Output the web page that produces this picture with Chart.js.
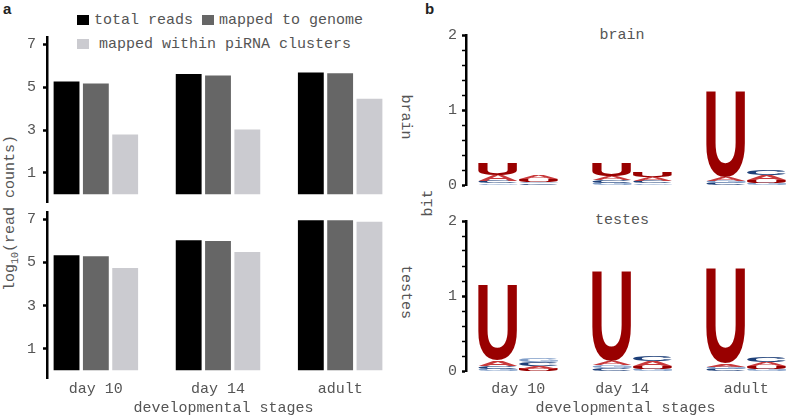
<!DOCTYPE html>
<html>
<head>
<meta charset="utf-8">
<script src="https://cdn.jsdelivr.net/npm/chart.js@4.4.0/dist/chart.umd.min.js"></script>
<style>
  body { margin: 0; background: #fff; width: 787px; height: 417px; position: relative; overflow: hidden;
         font-family: "Liberation Mono", monospace; color: #555; }
  canvas { position: absolute; }
  .lbl { position: absolute; font-size: 15px; white-space: nowrap; line-height: 1; }
  .up { transform: translate(-50%, -50%) rotate(-90deg); }
  .down { transform: translate(-50%, -50%) rotate(90deg); }
  .sw { position: absolute; width: 12px; height: 10px; }
  .panel { position: absolute; font: bold 15px "Liberation Sans", sans-serif; color: #222; }
  sub { font-size: 10px; }
</style>
</head>
<body>
<div class="panel" style="left:3px;top:0px">a</div>
<div class="panel" style="left:425px;top:0px">b</div>

<!-- legend -->
<div class="sw" style="left:77px;top:15px;background:#000"></div>
<div class="lbl" style="left:94px;top:13px">total reads</div>
<div class="sw" style="left:202px;top:15px;background:#666"></div>
<div class="lbl" style="left:219px;top:13px">mapped to genome</div>
<div class="sw" style="left:77px;top:39px;background:#cbcbd0"></div>
<div class="lbl" style="left:99px;top:37px">mapped within piRNA clusters</div>

<div class="lbl up" style="left:12px;top:213px">log<sub>10</sub>(read counts)</div>
<div class="lbl down" style="left:405px;top:117px">brain</div>
<div class="lbl down" style="left:405px;top:292px">testes</div>
<div class="lbl up" style="left:428px;top:203px">bit</div>
<div class="lbl" style="left:622px;top:35px;transform:translate(-50%,-50%)">brain</div>
<div class="lbl" style="left:622px;top:220px;transform:translate(-50%,-50%)">testes</div>

<canvas id="brainBars" width="420" height="180" style="left:0;top:30px"></canvas>
<canvas id="testesBars" width="420" height="212" style="left:0;top:205px"></canvas>
<canvas id="brainLogo" width="387" height="200" style="left:400px;top:0"></canvas>
<canvas id="testesLogo" width="387" height="217" style="left:400px;top:200px"></canvas>

<script>
// log10 read counts per developmental stage
const stages = ["day 10", "day 14", "adult"];
const brainTotal = [5.30, 5.66, 5.73];
const brainGenome = [5.21, 5.59, 5.69];
const brainPirna = [2.84, 3.07, 4.50];
const testesTotal = [5.38, 6.07, 7.00];
const testesGenome = [5.33, 6.04, 6.99];
const testesPirna = [4.79, 5.53, 6.93];
const readTicks = [1, 3, 5, 7];

// sequence logo: two positions per stage, bits for each nucleotide
const logoPositions = [0, 1, 2.8, 3.8, 5.6, 6.6];
const stageTickPos = [0.5, 3.05, 6.1];
const brainU = [0.15, 0.04, 0.17, 0.07, 1.15, 0.04];
const brainA = [0.08, 0.05, 0.05, 0.05, 0.05, 0.06];
const brainC = [0.03, 0.02, 0.04, 0.04, 0.03, 0.07];
const brainG = [0.02, 0.02, 0.03, 0.02, 0.03, 0.03];
const testesU = [1.00, 0.03, 1.20, 0.04, 1.27, 0.04];
const testesA = [0.07, 0.04, 0.05, 0.06, 0.04, 0.05];
const testesC = [0.04, 0.05, 0.04, 0.07, 0.03, 0.06];
const testesG = [0.03, 0.05, 0.04, 0.03, 0.03, 0.03];

const mono = { family: "Liberation Mono", size: 15 };
const textColor = "#555";

// keep the tick labels from eating into the plot height
function fixWidth(w) {
  return (s) => { s.width = w; s.paddingTop = 0; s.paddingBottom = 0; };
}

function barChart(id, total, genome, pirna, showX) {
  const pts = (vals) => vals.map((v, i) => ({ x: i, y: v }));
  const ds = (label, vals, color) => ({
    label, data: pts(vals), backgroundColor: color,
    borderColor: "rgba(255,255,255,0.5)", borderWidth: 1,
    barPercentage: 0.95, categoryPercentage: 0.72
  });
  new Chart(document.getElementById(id), {
    type: "bar",
    data: {
      datasets: [
        ds("total reads", total, "#000"),
        ds("mapped to genome", genome, "#666"),
        ds("mapped within piRNA clusters", pirna, "#cbcbd0")
      ]
    },
    options: {
      responsive: false, animation: false,
      layout: { padding: { top: 7, right: 20, bottom: showX ? 0 : 8, left: 0 } },
      plugins: { legend: { display: false }, tooltip: { enabled: false } },
      scales: {
        x: {
          type: "linear", min: -0.4, max: 2.49, offset: false,
          display: showX,
          grid: { display: false, drawTicks: false },
          border: { display: false },
          afterBuildTicks: (s) => { s.ticks = stages.map((_, i) => ({ value: i })); },
          afterFit: (s) => { if (showX) { s.height = 39; s.paddingLeft = 0; s.paddingRight = 0; } },
          ticks: { font: mono, color: textColor, padding: 2, maxRotation: 0, autoSkip: false,
                   callback: (v) => stages[v] },
          title: { display: true, text: "developmental stages", font: mono, color: textColor,
                   padding: { top: 0, bottom: 0 } }
        },
        y: {
          min: -0.35, max: 7.33,
          afterBuildTicks: (s) => { s.ticks = readTicks.map((v) => ({ value: v })); },
          afterFit: fixWidth(47),
          grid: { drawOnChartArea: false, drawTicks: true, tickLength: 4, tickColor: "#000", tickWidth: 2.5 },
          border: { display: true, color: "#000", width: 2.5 },
          ticks: { font: mono, color: textColor, padding: 7, autoSkip: false }
        }
      }
    }
  });
}

function drawLetter(ctx, letter, color, x, y, w, h) {
  if (h <= 0.3) return;
  ctx.save();
  ctx.font = 'bold 100px "Liberation Sans"';
  const m = ctx.measureText(letter);
  const gw = m.actualBoundingBoxLeft + m.actualBoundingBoxRight;
  const gh = m.actualBoundingBoxAscent + m.actualBoundingBoxDescent;
  ctx.translate(x, y);
  ctx.scale(w / gw, h / gh);
  ctx.fillStyle = color;
  ctx.textAlign = "left";
  ctx.textBaseline = "alphabetic";
  ctx.fillText(letter, m.actualBoundingBoxLeft, m.actualBoundingBoxAscent);
  ctx.restore();
}

const logoPlugin = {
  id: "logo",
  afterDatasetsDraw(chart) {
    const ctx = chart.ctx, xs = chart.scales.x, ys = chart.scales.y;
    const sets = chart.data.datasets;
    sets[0].data.forEach((pt, i) => {
      const col = sets.map((d) => ({ letter: d.label, color: d.borderColor, h: d.data[i].y }));
      col.sort((a, b) => a.h - b.h);
      const x0 = xs.getPixelForValue(pt.x - 0.48);
      const x1 = xs.getPixelForValue(pt.x + 0.48);
      let base = 0;
      col.forEach((c) => {
        const yb = ys.getPixelForValue(base);
        const yt = ys.getPixelForValue(base + c.h);
        drawLetter(ctx, c.letter, c.color, x0, yt, x1 - x0, yb - yt);
        base += c.h;
      });
    });
  }
};

function logoChart(id, u, a, c, g, showX) {
  const pts = (vals) => vals.map((v, i) => ({ x: logoPositions[i], y: v }));
  const ds = (label, vals, color) => ({ label, data: pts(vals), borderColor: color, pointRadius: 0, showLine: false });
  new Chart(document.getElementById(id), {
    type: "scatter",
    data: {
      datasets: [
        ds("U", u, "#990000"),
        ds("A", a, "#c8393b"),
        ds("C", c, "#1d3f78"),
        ds("G", g, "#7f9dc8")
      ]
    },
    plugins: [logoPlugin],
    options: {
      responsive: false, animation: false,
      layout: { padding: { top: showX ? 21 : 35, right: 2, bottom: showX ? 0 : 15, left: 0 } },
      plugins: { legend: { display: false }, tooltip: { enabled: false } },
      scales: {
        x: {
          type: "linear", min: -0.786, max: 7.05,
          display: showX,
          grid: { display: false, drawTicks: false },
          border: { display: false },
          afterBuildTicks: (s) => { s.ticks = stageTickPos.map((v) => ({ value: v })); },
          afterFit: (s) => { if (showX) { s.height = 46; s.paddingLeft = 0; s.paddingRight = 0; } },
          ticks: { font: mono, color: textColor, padding: 9, maxRotation: 0, autoSkip: false,
                   callback: (v) => stages[stageTickPos.indexOf(v)] },
          title: { display: true, text: "developmental stages", font: mono, color: textColor,
                   padding: { top: 0, bottom: 0 } }
        },
        y: {
          min: 0, max: 2,
          ticks: { stepSize: 0.2, font: mono, color: textColor, padding: 5, autoSkip: false,
                   callback: (v) => Math.abs(v - Math.round(v)) < 1e-6 ? String(Math.round(v)) : "" },
          afterFit: fixWidth(66),
          grid: {
            drawOnChartArea: false, drawTicks: true, tickLength: 4, tickColor: "#000",
            tickWidth: (ctx) => Math.abs(ctx.tick.value - Math.round(ctx.tick.value)) < 1e-6 ? 2.5 : 1.5
          },
          border: { display: true, color: "#000", width: 2.5 }
        }
      }
    }
  });
}

barChart("brainBars", brainTotal, brainGenome, brainPirna, false);
barChart("testesBars", testesTotal, testesGenome, testesPirna, true);
logoChart("brainLogo", brainU, brainA, brainC, brainG, false);
logoChart("testesLogo", testesU, testesA, testesC, testesG, true);
</script>
</body>
</html>
